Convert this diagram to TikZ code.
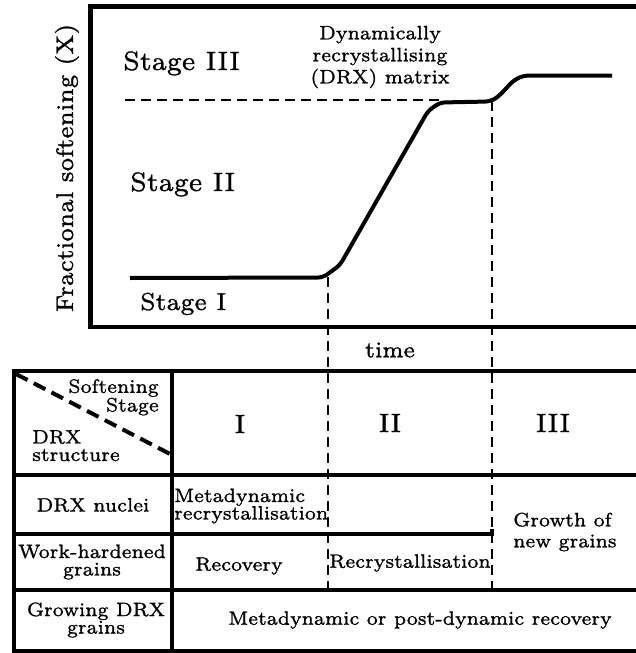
\documentclass[tikz,border=0pt]{standalone}
\usepackage{fontspec}
\setmainfont{lmroman7-regular}[Extension=.otf, FakeBold=1.1]
\begin{document}
\begin{tikzpicture}[x=1pt,y=-1pt,
  frame/.style={line width=4.5pt},
  rule/.style={line width=4pt},
  guide/.style={line width=2.5pt, dash pattern=on 10pt off 6pt},
  diag/.style={line width=4pt, dash pattern=on 13pt off 7pt},
  curve/.style={line width=4pt, line join=round, rounded corners=5pt},
  big/.style={font=\fontsize{26.5}{30}\selectfont, inner sep=0pt},
  body/.style={font=\fontsize{19.4}{17.5}\selectfont, inner sep=0pt},
]
\useasboundingbox (0,0) rectangle (635,653);

% ---- softening curve plot ----
\draw[frame] (90.5,6.5) rectangle (660,327);
\node[rotate=90, font=\fontsize{24}{28}\selectfont, inner sep=0pt] (ylab) at (67,168) {Fractional softening (X)};

\node[big, anchor=base west] (s3) at (123,70) {Stage III};
\node[big, anchor=base west] (s2) at (130,191) {Stage II};
\node[font=\fontsize{24.5}{28}\selectfont, inner sep=0pt, anchor=base west] (s1) at (140,310) {Stage I};

\node[font=\fontsize{19.5}{22}\selectfont, align=center, inner sep=0pt] (drx) at (380,57) {Dynamically\\recrystallising\\(DRX) matrix};

\coordinate (lv0) at (125,100);
\coordinate (lv1) at (440,100);
\draw[guide] (lv0) -- (lv1);

\coordinate (c0) at (130,278);
\coordinate (k1) at (328,277);
\coordinate (k2) at (492,101);
\coordinate (c9) at (612,75.5);
\draw[curve] (c0) -- (323,277.5) -- (340,265) -- (428,111) -- (440,102.5)
  -- (490,101.5) -- (498,97) -- (514,80) -- (524,75.5) -- (c9);

\node[font=\fontsize{22.5}{24}\selectfont, inner sep=0pt] (time) at (390,350) {time};

% ---- table ----
\draw[rule] (14,370.5) rectangle (660,650.5);
\draw[rule] (172,370.5) -- (172,650.5);
\draw[rule] (14,475) -- (660,475);
\draw[rule] (14,534) -- (492,534) -- (492,529);
\draw[rule] (14,590) -- (660,590);
\draw[diag] (16,374) -- (172,455);

% stage boundaries carried down into the table
\coordinate (b1) at (328,590);
\coordinate (b2) at (492,590);
\draw[guide] (k1) -- (b1);
\draw[guide] (k2) -- (b2);

\node[body, align=right, anchor=north east] (hsoft) at (159,379) {Softening\\Stage};
\node[body, align=left, anchor=north west] (hdrx) at (32,430) {DRX\\structure};
\node[big] (h1) at (240,424) {I};
\node[big] (h2) at (390,423) {II};
\node[big] (h3) at (553,423) {III};

\node[body] (nuc) at (93,505) {DRX nuclei};
\node[body, align=left, anchor=west] (meta) at (174,506) {Metadynamic\\recrystallisation};
\node[body, align=center] (work) at (92,562) {Work-hardened\\grains};
\node[body] (recov) at (239,566) {Recovery};
\node[body] (recr) at (410,563) {Recrystallisation};
\node[font=\fontsize{19.4}{21}\selectfont, inner sep=0pt, align=left, anchor=west] (grow) at (513,532) {Growth of\\new grains};
\node[body, align=center] (gdrx) at (96,620) {Growing DRX\\grains};
\node[body] (mpd) at (420,620) {Metadynamic or post-dynamic recovery};
\end{tikzpicture}
\end{document}
